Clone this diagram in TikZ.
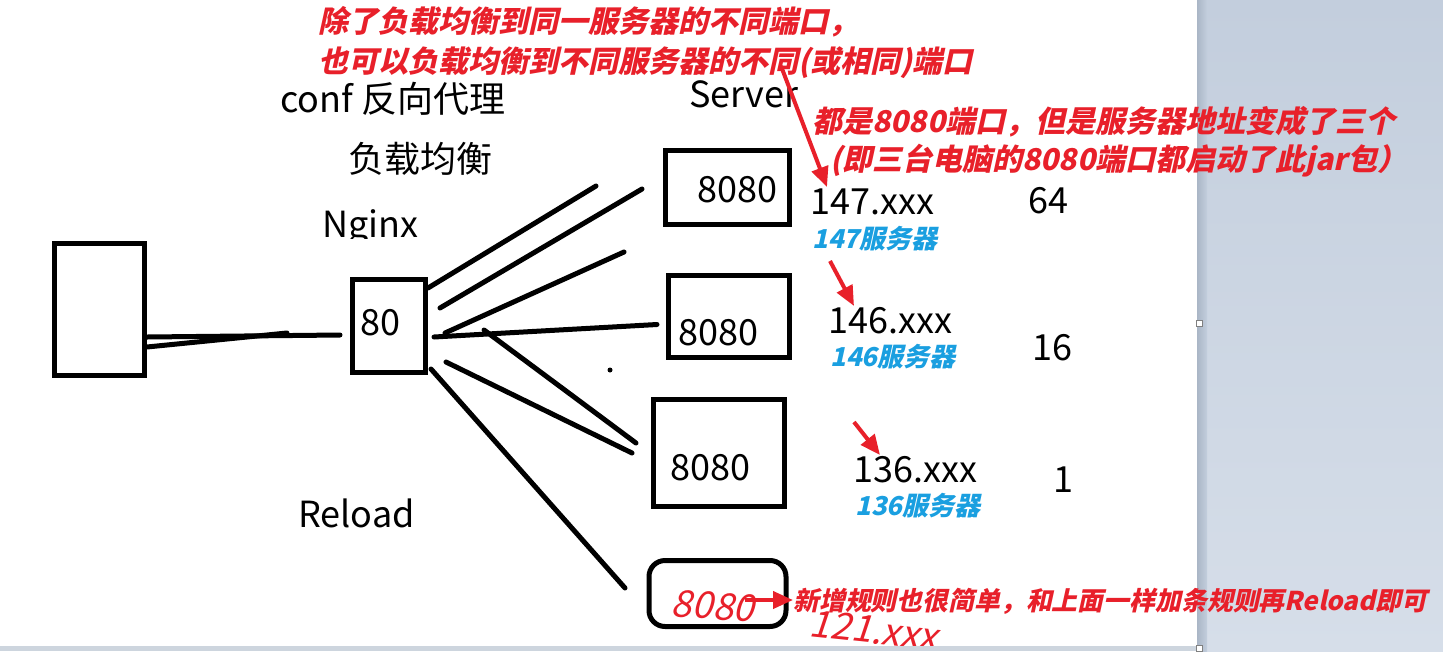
\documentclass[tikz,border=0pt]{standalone}
\usepackage{fontspec}
\setmainfont{Noto Sans CJK SC}
\newfontfamily\rf[FakeSlant=0.22]{Noto Sans CJK SC}
\usetikzlibrary{arrows.meta,calc}
\newlength\pxu \setlength\pxu{0.75pt}
\definecolor{hred}{HTML}{E8202A}
\definecolor{hblue}{HTML}{1A9FE0}
\definecolor{paneltop}{HTML}{C3CEDD}
\definecolor{panelbot}{HTML}{D6DEE9}
\definecolor{panelshadow}{HTML}{AAB6C6}
\tikzset{
  box/.style={draw=black, line width=5\pxu, inner sep=0pt},
  lbl/.style={font=\fontsize{27pt}{30pt}\selectfont, anchor=base west, inner sep=0pt},
  redtxt/.style={text=hred, font=\rf\bfseries\fontsize{22.5pt}{26pt}\selectfont, anchor=base west, inner sep=0pt},
  redsmall/.style={text=hred, font=\rf\bfseries\fontsize{19.4pt}{24pt}\selectfont, anchor=base west, inner sep=0pt},
  bluetxt/.style={text=hblue, font=\rf\bfseries\fontsize{19.5pt}{22pt}\selectfont, anchor=base west, inner sep=0pt},
  hand/.style={text=hred, font=\rf\fontsize{28pt}{30pt}\selectfont, inner sep=0pt},
  wire/.style={line width=5\pxu, line cap=round},
  rarrow/.style={draw=hred, line width=3pt, -{Triangle[length=15pt, width=12.75pt]}},
}
\begin{document}
\begin{tikzpicture}[x=0.75pt,y=-0.75pt]
\useasboundingbox (0,0) rectangle (1443,651);
% background
\shade[top color=paneltop, bottom color=panelbot] (1197,0) rectangle (1443,651);
\shade[left color=panelshadow, right color=paneltop] (1197,0) rectangle (1207,651);
\fill[white] (0,0) rectangle (1197,646);

% boxes
\node[box, minimum width=90\pxu, minimum height=132\pxu] (client) at (99.5,309.5) {};
\node[box, minimum width=73\pxu, minimum height=93\pxu] (ng) at (389,326) {};
\node[box, minimum width=124\pxu, minimum height=74\pxu] (s1) at (727.5,187.5) {};
\node[box, minimum width=121\pxu, minimum height=82\pxu] (s2) at (729,316.5) {};
\node[box, minimum width=131\pxu, minimum height=107\pxu] (s3) at (719,453) {};
\node[box, rounded corners=12pt, minimum width=137\pxu, minimum height=66\pxu] (s4) at (717.5,593.5) {};

% client -> nginx
\draw[wire] ($(client.east)+(0,27.5)$) -- ($(ng.west)+(-10,9)$);
\draw[wire] ($(client.east)+(0,37.5)$) -- ($(ng.west)+(-63,7)$);

% fan lines
\coordinate (f1) at (596,186);
\coordinate (f2) at (642,189);
\coordinate (f3) at (624,252);
\coordinate (f5) at (636,443);
\coordinate (f6) at (632,453);
\coordinate (f7) at (625,588);
\draw[wire] ($(ng.east)+(0,-38)$) -- (f1);
\draw[wire] ($(ng.east)+(12,-18)$) -- (f2);
\draw[wire] ($(ng.east)+(17,7)$) -- (f3);
\draw[wire] ($(ng.east)+(6,11)$) -- ($(s2.west)+(-9,8)$);
\draw[wire] ($(ng.east)+(56,4)$) -- (f5);
\draw[wire] ($(ng.east)+(18,36)$) -- (f6);
\draw[wire] ($(ng.east)+(3,43)$) -- (f7);
\fill (610,370) circle (2.5);

% black labels
\node[lbl] (conf) at (280,112) {conf 反向代理};
\node[lbl] (lb) at (348,172) {负载均衡};
\begin{scope}
\clip (300,190) rectangle (440,238);
\node[lbl] (nginx) at (322,237) {Nginx};
\end{scope}
\node[lbl] (server) at (689,107) {Server};
\node[lbl] (reload) at (298,527) {Reload};
\node[lbl] (p80) at (360,335) {80};
\node[lbl] (p1) at (697,202) {8080};
\node[lbl] (p2) at (678,345) {8080};
\node[lbl] (p3) at (670,480) {8080};
\node[lbl] (ip1) at (810,214) {147.xxx};
\node[lbl] (ip2) at (828,333) {146.xxx};
\node[lbl] (ip3) at (853,482) {136.xxx};
\node[lbl] (w1) at (1028,213) {64};
\node[lbl] (w2) at (1032,360) {16};
\node[lbl] (w3) at (1053,492) {1};

% blue labels
\node[bluetxt] (n1) at (812,248) {147服务器};
\node[bluetxt] (n2) at (830,366) {146服务器};
\node[bluetxt] (n3) at (855,515) {136服务器};

% red notes
\node[redtxt] (note1) at (318,32) {除了负载均衡到同一服务器的不同端口，};
\node[redtxt] (note2) at (318,72) {也可以负载均衡到不同服务器的不同(或相同)端口};
\node[redtxt] (note3) at (812,132) {都是8080端口，但是服务器地址变成了三个};
\node[redtxt] (note4) at (830,170) {(即三台电脑的8080端口都启动了此jar包）};
\node[redsmall] (note5) at (793,610) {新增规则也很简单，和上面一样加条规则再Reload即可};

% handwriting
\node[hand, rotate=-4] (hw1) at (713,606) {8080};
\node[hand, rotate=-6] (hw2) at (874,630) {121.xxx};

% red arrows
\coordinate (a1) at (781,66);
\coordinate (a2) at (830,261);
\coordinate (a3) at (854,422);
\coordinate (a4) at (745,600);
\draw[rarrow] (a1) -- (827,187);
\draw[rarrow] (a2) -- (854,306);
\draw[rarrow] (a3) -- (880,455);
\draw[rarrow] (a4) -- (note5.west |- a4);

% bottom strip and handles
\fill[panelbot!90!gray] (0,646) rectangle (1197,651);
\draw[gray, fill=white, line width=1\pxu] (1196,320) rectangle (1202,326);
\draw[gray, fill=white, line width=1\pxu] (1196,645) rectangle (1202,651);
\end{tikzpicture}
\end{document}
